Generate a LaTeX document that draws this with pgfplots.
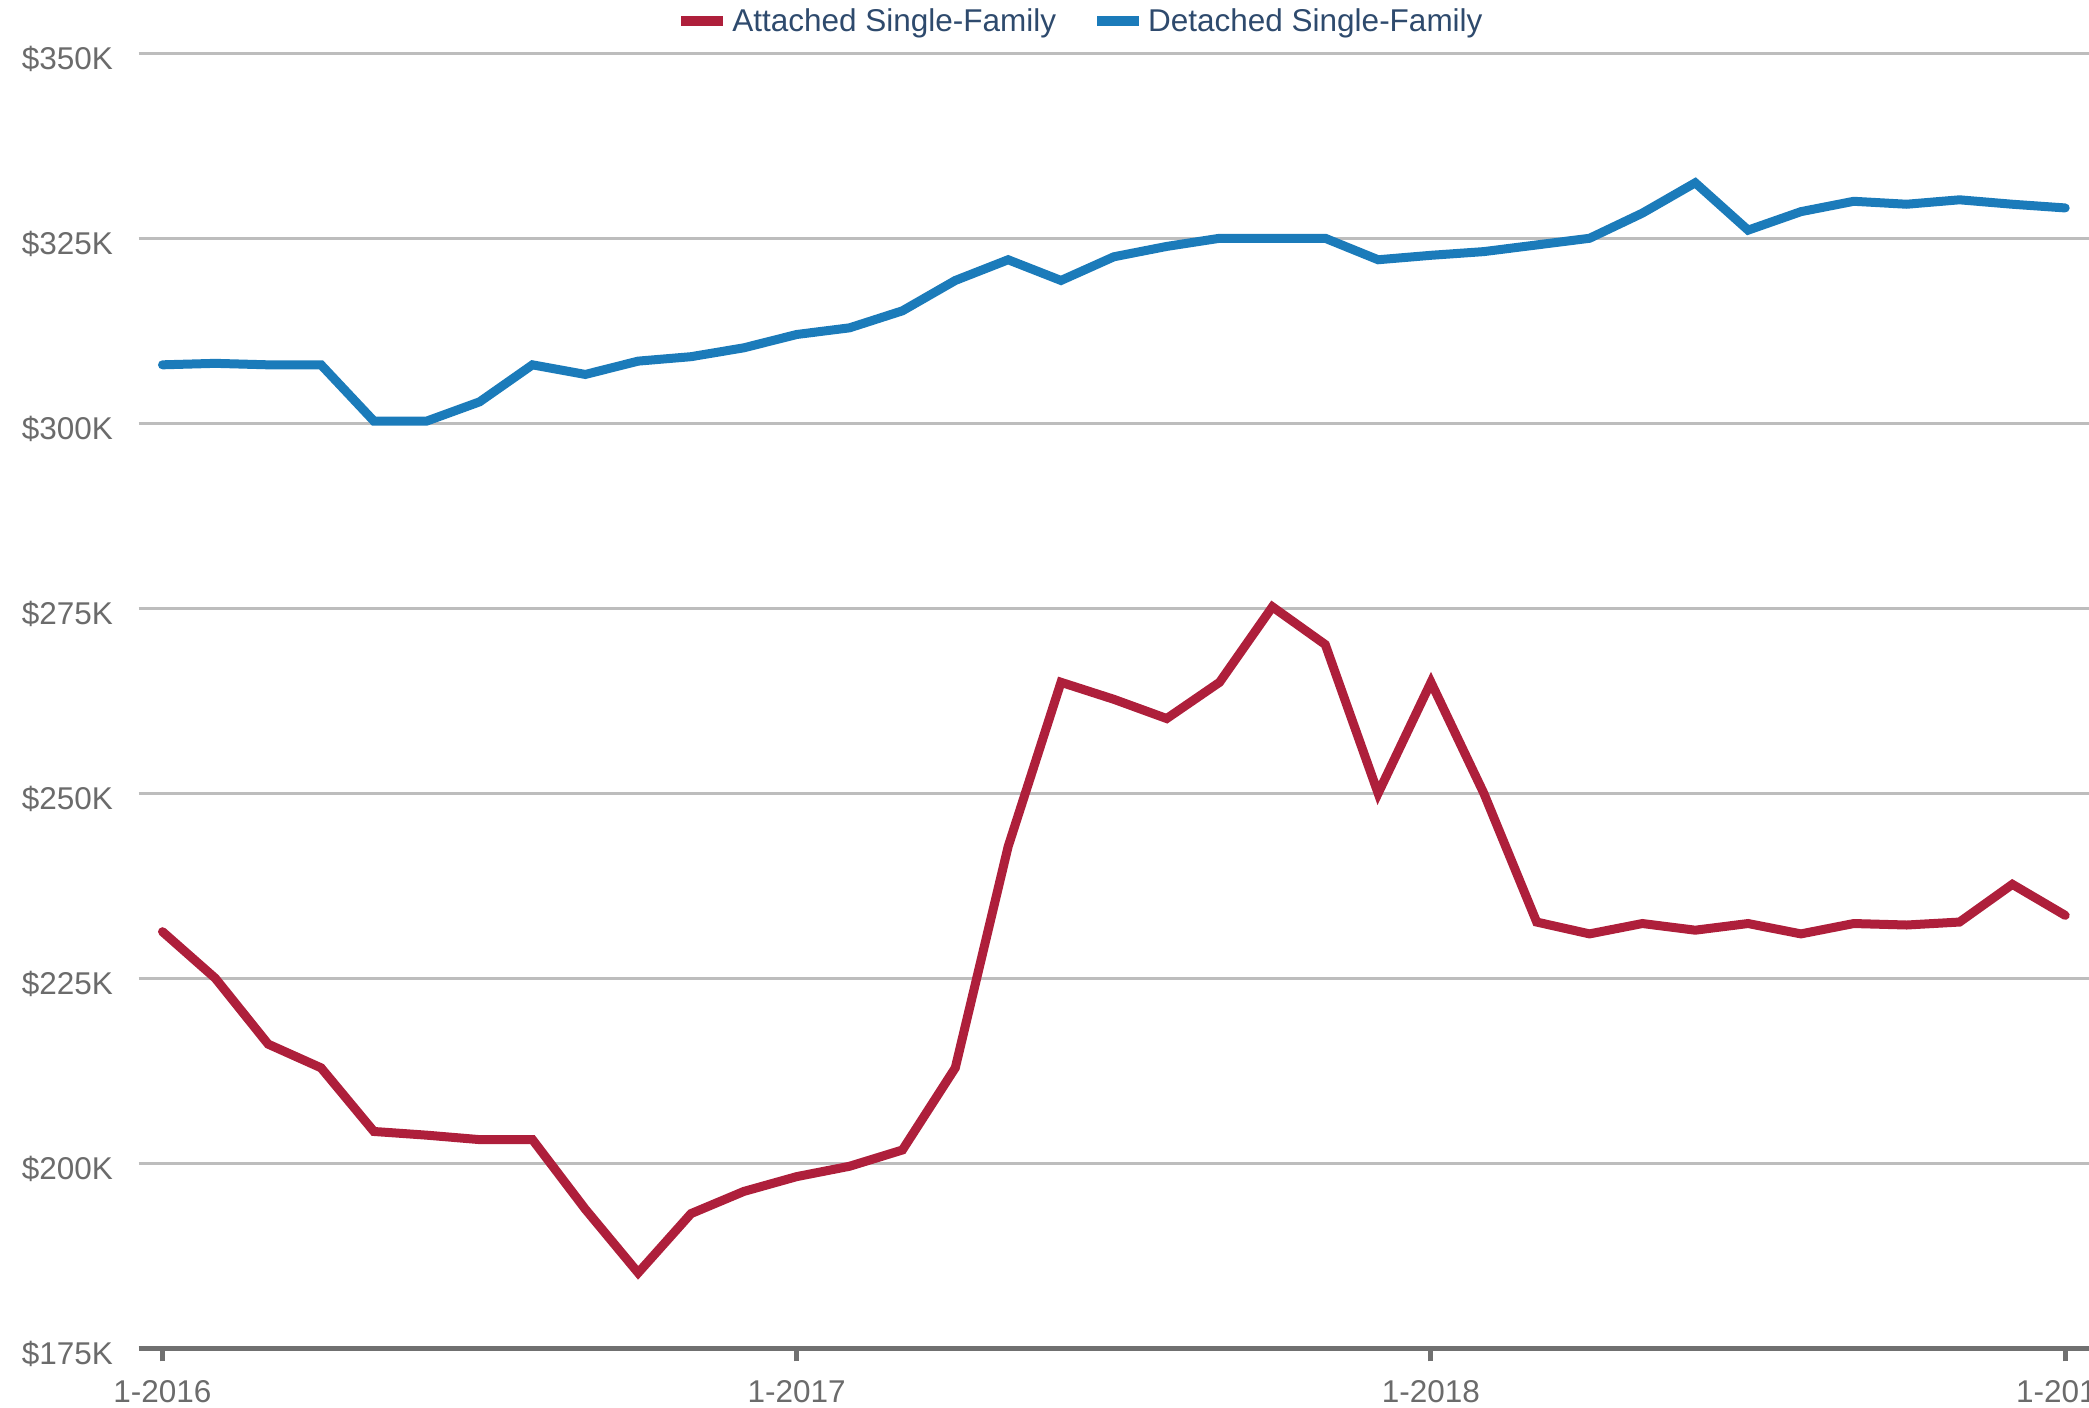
\documentclass[border=0pt]{standalone}
\usepackage{fontspec}
\setmainfont{Liberation Sans}
\usepackage{pgfplots}
\pgfplotsset{compat=1.18}
\definecolor{redline}{HTML}{AE1F3B}
\definecolor{blueline}{HTML}{1B7BBA}
\definecolor{gridgray}{HTML}{BDBDBD}
\definecolor{axisgray}{HTML}{707070}
\definecolor{ticktext}{HTML}{6B6B6B}
\definecolor{legtext}{HTML}{2E4A6D}
\begin{document}
\begin{tikzpicture}
\begin{axis}[
  scale only axis,
  width=975.2pt, height=647.5pt,
  xmin=-0.452, xmax=36.45,
  ymin=175, ymax=350,
  axis x line*=bottom, axis y line*=left,
  y axis line style={draw=none},
  x axis line style={line width=2.5pt, color=axisgray},
  xtick={0,12,24,36},
  xticklabels={1-2016,1-2017,1-2018,1-2019},
  ytick={175,200,225,250,275,300,325,350},
  yticklabels={\$175K,\$200K,\$225K,\$250K,\$275K,\$300K,\$325K,\$350K},
  ymajorgrids,
  major grid style={line width=1.25pt, color=gridgray},
  tick align=outside,
  major tick length=6.5pt,
  x tick style={line width=2.5pt, color=axisgray},
  y tick style={draw=none},
  tick label style={font=\fontsize{15.75}{18}\selectfont, text=ticktext},
  yticklabel style={anchor=east, xshift=-2.8pt, yshift=-3pt},
  xticklabel style={anchor=north, yshift=-6pt},
  legend columns=2,
  legend style={at={(rel axis cs:0.4834,1)}, anchor=center, yshift=16pt,
    draw=none, fill=none, font=\fontsize{15.75}{18}\selectfont, text=legtext,
    /tikz/every even column/.append style={column sep=16pt}},
  legend image code/.code={\draw[#1, line width=5pt, line cap=butt] (0pt,0pt) -- (21pt,0pt);},
  clip=false,
]
\addplot[redline, line width=4.5pt, line cap=round, line join=miter] coordinates {
(0,231.3) (1,225.0) (2,216.1) (3,212.9) (4,204.3) (5,203.8) (6,203.2) (7,203.2)
(8,193.8) (9,185.2) (10,193.2) (11,196.2) (12,198.2) (13,199.6) (14,201.8)
(15,212.9) (16,242.8) (17,265.0) (18,262.7) (19,260.1) (20,265.0) (21,275.2)
(22,270.1) (23,250.0) (24,265.0) (25,250.0) (26,232.6) (27,231.0) (28,232.4)
(29,231.5) (30,232.4) (31,231.0) (32,232.4) (33,232.2) (34,232.6) (35,237.7) (36,233.5)
};
\addlegendentry{Attached Single-Family}
\addplot[blueline, line width=4.5pt, line cap=round, line join=miter] coordinates {
(0,307.9) (1,308.1) (2,307.9) (3,307.9) (4,300.3) (5,300.3) (6,302.9) (7,307.9)
(8,306.6) (9,308.4) (10,309.0) (11,310.2) (12,312.0) (13,312.9) (14,315.2)
(15,319.3) (16,322.1) (17,319.3) (18,322.5) (19,323.9) (20,325.0) (21,325.0)
(22,325.0) (23,322.1) (24,322.7) (25,323.2) (26,324.1) (27,325.0) (28,328.4)
(29,332.5) (30,326.1) (31,328.6) (32,330.0) (33,329.6) (34,330.2) (35,329.6) (36,329.1)
};
\addlegendentry{Detached Single-Family}
\end{axis}
\pgfresetboundingbox
\path[use as bounding box] ([xshift=-69.3pt,yshift=-29.85pt]current axis.south west) rectangle ([yshift=26.65pt]current axis.north east);
\end{tikzpicture}
\end{document}
